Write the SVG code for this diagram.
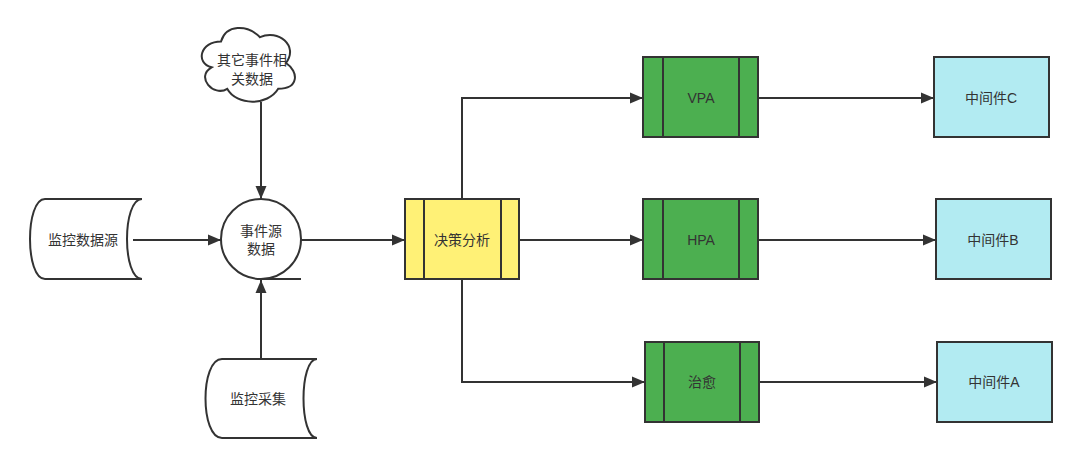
<svg xmlns="http://www.w3.org/2000/svg" width="1080" height="468" viewBox="0 0 1080 468">
<defs>
<marker id="arr" markerUnits="userSpaceOnUse" markerWidth="14" markerHeight="12" refX="13" refY="6" orient="auto">
<path d="M0,0.5 L13,6 L0,11.5 Z" fill="#333333"/>
</marker>
<style>
.n{stroke:#333333;stroke-width:2;}
.w{fill:#ffffff;}
.y{fill:#FFF176;}
.g{fill:#4CAF50;}
.c{fill:#B2EBF2;}
.t{font-family:"Liberation Sans","Noto Sans CJK SC",sans-serif;font-size:14px;fill:#333333;text-anchor:middle;}
.e{fill:none;stroke:#333333;stroke-width:2;marker-end:url(#arr);}
</style>
</defs>
<rect width="1080" height="468" fill="#ffffff"/>
<g id="connectors">
<path class="e" d="M133,240 H221"/>
<path class="e" d="M261,102 V199"/>
<path class="e" d="M261,359 V280"/>
<path class="e" d="M301,240 H405"/>
<path class="e" d="M462,199 V98 H643"/>
<path class="e" d="M519,240 H643"/>
<path class="e" d="M462,279 V382 H645"/>
<path class="e" d="M758,98 H934"/>
<path class="e" d="M758,240 H936"/>
<path class="e" d="M759,382 H937"/>
</g>
<g id="monitor-source">
<path class="n w" d="M45,199 H142 C122,199 122,279 142,279 H45 C25,279 25,199 45,199 Z"/>
<text class="t" x="83" y="245">监控数据源</text>
</g>
<g id="other-events">
<path class="n w" d="M221,41.5 C200.2,41.5 195,63 211.6,67.3 C195,76.8 213.7,97.4 227.2,88.8 C236.6,106 267.8,106 278.2,88.8 C299,88.8 299,71.6 286,63 C299,45.8 278.2,28.6 260,37.2 C247,24.3 226.2,24.3 221,41.5 Z"/>
<text class="t" x="252" y="65">其它事件相</text>
<text class="t" x="252" y="84">关数据</text>
</g>
<g id="event-source">
<circle class="n w" cx="261" cy="239" r="40"/>
<path class="n" d="M261,279 H301" fill="none"/>
<text class="t" x="261" y="236">事件源</text>
<text class="t" x="261" y="254">数据</text>
</g>
<g id="monitor-collect">
<path class="n w" d="M222,359 H317 C299,359 299,438 317,438 H222 C200,438 200,359 222,359 Z"/>
<text class="t" x="258" y="404">监控采集</text>
</g>
<g id="decision">
<rect class="n y" x="405" y="199" width="114" height="80"/>
<path class="n" d="M424,199 V279 M501,199 V279"/>
<text class="t" x="462" y="245">决策分析</text>
</g>
<g id="vpa">
<rect class="n g" x="643" y="57" width="115" height="80"/>
<path class="n" d="M663,57 V137 M739,57 V137"/>
<text class="t" x="701" y="103">VPA</text>
</g>
<g id="hpa">
<rect class="n g" x="643" y="199" width="115" height="80"/>
<path class="n" d="M663,199 V279 M739,199 V279"/>
<text class="t" x="701" y="245">HPA</text>
</g>
<g id="heal">
<rect class="n g" x="645" y="342" width="114" height="80"/>
<path class="n" d="M664,342 V422 M740,342 V422"/>
<text class="t" x="702" y="387">治愈</text>
</g>
<g id="mw-c">
<rect class="n c" x="934" y="57" width="115" height="80"/>
<text class="t" x="991" y="103">中间件C</text>
</g>
<g id="mw-b">
<rect class="n c" x="936" y="199" width="115" height="80"/>
<text class="t" x="993" y="245">中间件B</text>
</g>
<g id="mw-a">
<rect class="n c" x="937" y="342" width="115" height="80"/>
<text class="t" x="994" y="387">中间件A</text>
</g>
</svg>
